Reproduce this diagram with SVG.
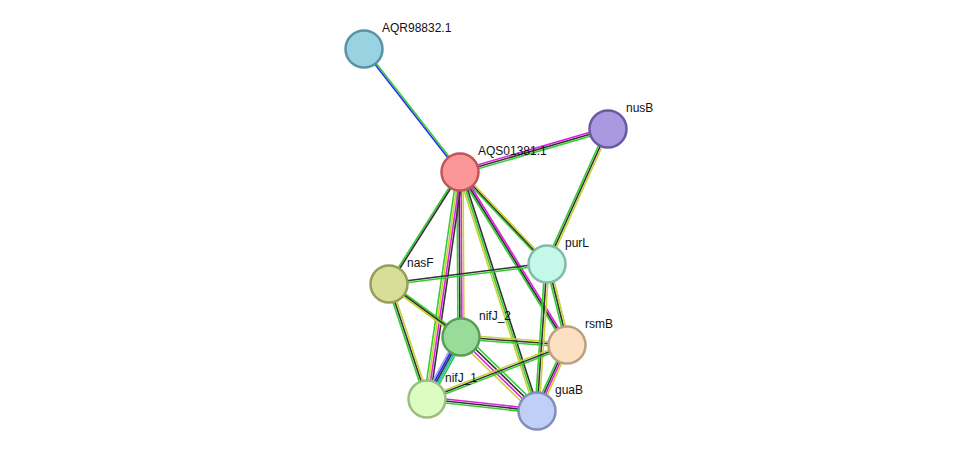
<svg xmlns="http://www.w3.org/2000/svg" width="976" height="457" viewBox="0 0 976 457">
<style>
line{stroke-width:1.6;fill:none}
.g{stroke:#33cc33}.k{stroke:#333}.m{stroke:#e020e0}.y{stroke:#c8d232}.b{stroke:#2a2aff}.c{stroke:#22bbdd}.l{stroke:#a0a0f0}
circle{stroke-width:2.5}
text{font-family:"Liberation Sans",Arial,sans-serif;font-size:12px;fill:#111}
</style>
<rect width="976" height="457" fill="#fff"/>
<g id="connectors">
<line class="b" x1="363" y1="49" x2="459" y2="172"/><line class="g" x1="365" y1="49" x2="461" y2="172"/>
<line class="m" x1="460" y1="170" x2="608" y2="127"/><line class="k" x1="460" y1="172" x2="608" y2="129"/><line class="g" x1="460" y1="174" x2="608" y2="131"/>
<line class="g" x1="606" y1="129" x2="545" y2="264"/><line class="k" x1="608" y1="129" x2="547" y2="264"/><line class="y" x1="610" y1="129" x2="549" y2="264"/>
<line class="g" x1="458" y1="172" x2="545" y2="264"/><line class="k" x1="460" y1="172" x2="547" y2="264"/><line class="y" x1="462" y1="172" x2="549" y2="264"/>
<line class="g" x1="459" y1="172" x2="388" y2="284"/><line class="k" x1="461" y1="172" x2="390" y2="284"/>
<line class="g" x1="457" y1="172" x2="458" y2="337"/><line class="k" x1="459" y1="172" x2="460" y2="337"/><line class="m" x1="461" y1="172" x2="462" y2="337"/><line class="y" x1="463" y1="172" x2="464" y2="337"/>
<line class="g" x1="457" y1="172" x2="424" y2="399"/><line class="y" x1="459" y1="172" x2="426" y2="399"/><line class="m" x1="461" y1="172" x2="428" y2="399"/><line class="k" x1="463" y1="172" x2="430" y2="399"/>
<line class="g" x1="458" y1="172" x2="565" y2="345"/><line class="k" x1="460" y1="172" x2="567" y2="345"/><line class="m" x1="462" y1="172" x2="569" y2="345"/>
<line class="y" x1="458" y1="172" x2="535" y2="411"/><line class="g" x1="460" y1="172" x2="537" y2="411"/><line class="k" x1="462" y1="172" x2="539" y2="411"/>
<line class="k" x1="389" y1="283" x2="547" y2="263"/><line class="g" x1="389" y1="285" x2="547" y2="265"/>
<line class="g" x1="389" y1="282" x2="461" y2="335"/><line class="k" x1="389" y1="284" x2="461" y2="337"/><line class="y" x1="389" y1="286" x2="461" y2="339"/>
<line class="g" x1="387" y1="284" x2="425" y2="399"/><line class="k" x1="389" y1="284" x2="427" y2="399"/><line class="y" x1="391" y1="284" x2="429" y2="399"/>
<line class="y" x1="461" y1="335" x2="567" y2="343"/><line class="k" x1="461" y1="337" x2="567" y2="345"/><line class="g" x1="461" y1="339" x2="567" y2="347"/>
<line class="l" x1="457" y1="337" x2="423" y2="399"/><line class="b" x1="459" y1="337" x2="425" y2="399"/><line class="k" x1="461" y1="337" x2="427" y2="399"/><line class="c" x1="463" y1="337" x2="429" y2="399"/><line class="g" x1="465" y1="337" x2="431" y2="399"/>
<line class="g" x1="464" y1="334" x2="540" y2="408"/><line class="k" x1="462" y1="336" x2="538" y2="410"/><line class="m" x1="460" y1="338" x2="536" y2="412"/><line class="y" x1="458" y1="340" x2="534" y2="414"/>
<line class="g" x1="546" y1="264" x2="566" y2="345"/><line class="k" x1="548" y1="264" x2="568" y2="345"/><line class="y" x1="550" y1="264" x2="570" y2="345"/>
<line class="g" x1="545" y1="264" x2="535" y2="411"/><line class="k" x1="547" y1="264" x2="537" y2="411"/><line class="y" x1="549" y1="264" x2="539" y2="411"/>
<line class="y" x1="567" y1="343" x2="427" y2="397"/><line class="k" x1="567" y1="345" x2="427" y2="399"/><line class="g" x1="567" y1="347" x2="427" y2="401"/>
<line class="g" x1="564" y1="345" x2="534" y2="411"/><line class="k" x1="566" y1="345" x2="536" y2="411"/><line class="m" x1="568" y1="345" x2="538" y2="411"/><line class="y" x1="570" y1="345" x2="540" y2="411"/>
<line class="m" x1="427" y1="397" x2="537" y2="409"/><line class="k" x1="427" y1="399" x2="537" y2="411"/><line class="g" x1="427" y1="401" x2="537" y2="413"/>
</g>
<g id="AQR98832.1"><circle cx="364" cy="49" r="18.5" fill="#99d3e1" stroke="#5a93a3"/><text x="382" y="32">AQR98832.1</text></g>
<g id="AQS01381.1"><circle cx="460" cy="172" r="18.5" fill="#fb9797" stroke="#c05858"/><text x="478" y="155">AQS01381.1</text></g>
<g id="nusB"><circle cx="608" cy="129" r="18.5" fill="#aa99e0" stroke="#6a5aa0"/><text x="626" y="112">nusB</text></g>
<g id="purL"><circle cx="547" cy="264" r="18.5" fill="#c4f9ea" stroke="#84b9aa"/><text x="565" y="247">purL</text></g>
<g id="nasF"><circle cx="389" cy="284" r="18.5" fill="#d8dd98" stroke="#989d58"/><text x="407" y="267">nasF</text></g>
<g id="nifJ_2"><circle cx="461" cy="337" r="18.5" fill="#99dc99" stroke="#5a9c5a"/><text x="479" y="320">nifJ_2</text></g>
<g id="rsmB"><circle cx="567" cy="345" r="18.5" fill="#fde0c2" stroke="#bda082"/><text x="585" y="328">rsmB</text></g>
<g id="nifJ_1"><circle cx="427" cy="399" r="18.5" fill="#dbfdc2" stroke="#9bbd82"/><text x="445" y="382">nifJ_1</text></g>
<g id="guaB"><circle cx="537" cy="411" r="18.5" fill="#bfcff8" stroke="#7f8fb8"/><text x="555" y="394">guaB</text></g>
</svg>
